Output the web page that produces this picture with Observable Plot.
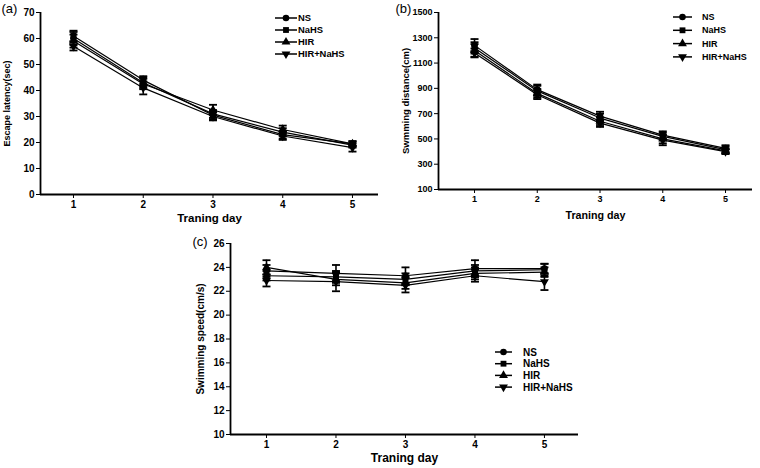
<!DOCTYPE html>
<html>
<head>
<meta charset="utf-8">
<script src="https://cdn.jsdelivr.net/npm/d3@7"></script>
<script src="https://cdn.jsdelivr.net/npm/@observablehq/plot@0.6"></script>
<style>
  html, body { margin: 0; padding: 0; background: #fff; }
  #fig { position: relative; width: 760px; height: 468px; overflow: hidden; background: #fff; }
  .panel { position: absolute; }
  .legend { position: absolute; }
</style>
</head>
<body>
<div id="fig"></div>
<script>
// ---- Data ----
const days = [1, 2, 3, 4, 5];
const groups = ["NS", "NaHS", "HIR", "HIR+NaHS"];

// (a) Escape latency (sec): rows = groups, columns = days
const latencyMean = [
  [60, 43, 31, 24, 19],
  [61, 44, 30.5, 23, 19.5],
  [59, 42.5, 32.5, 25, 19.5],
  [57, 41, 30, 22.5, 18]
];
const latencyErr = [
  [2.5, 2, 1.5, 1.5, 1],
  [2, 1.5, 1.5, 1.5, 1],
  [2.5, 2, 2, 1.5, 1],
  [1.6, 2.5, 1.5, 1.5, 1.5]
];

// (b) Swimming distance (cm)
const distanceMean = [
  [1240, 890, 680, 530, 425],
  [1220, 880, 665, 520, 415],
  [1200, 860, 640, 500, 405],
  [1180, 850, 625, 490, 400]
];
const distanceErr = [
  [50, 40, 35, 30, 25],
  [45, 40, 35, 30, 25],
  [50, 35, 30, 35, 20],
  [35, 35, 30, 40, 20]
];

// (c) Swimming speed (cm/s)
const speedMean = [
  [23.7, 23.5, 23.3, 23.9, 23.9],
  [23.3, 23.2, 23.0, 23.7, 23.8],
  [24.0, 23.0, 22.7, 23.5, 23.6],
  [22.9, 22.8, 22.5, 23.3, 22.8]
];
const speedErr = [
  [0.5, 0.7, 0.7, 0.7, 0.4],
  [0.4, 0.5, 0.5, 0.5, 0.5],
  [0.6, 0.5, 0.5, 0.5, 0.4],
  [0.5, 0.8, 0.6, 0.5, 0.7]
];

const latencyTicks = [0, 10, 20, 30, 40, 50, 60, 70];
const distanceTicks = [100, 300, 500, 700, 900, 1100, 1300, 1500];
const speedTicks = [10, 12, 14, 16, 18, 20, 22, 24, 26];

// ---- Symbols ----
const sqrt3 = Math.sqrt(3);
const triangleDown = {
  draw(ctx, size) {
    const y = -Math.sqrt(size / (sqrt3 * 3));
    ctx.moveTo(0, -y * 2);
    ctx.lineTo(-sqrt3 * y, y);
    ctx.lineTo(sqrt3 * y, y);
    ctx.closePath();
  }
};
const capSymbol = {
  draw(ctx, size) {
    ctx.moveTo(-4, 0);
    ctx.lineTo(4, 0);
  }
};
const groupSymbols = [d3.symbolCircle, d3.symbolSquare, d3.symbolTriangle, triangleDown];
const groupSymbolNames = ["circle", "square", "triangle", triangleDown];

const FONT = "'Liberation Sans', Arial, Helvetica, sans-serif";

function panel(cfg) {
  const rows = [];
  groups.forEach((g, gi) => days.forEach((d, di) => rows.push({
    group: g, gi, day: d, mean: cfg.means[gi][di], err: cfg.errs[gi][di]
  })));
  const marks = [
    Plot.axisY({ticks: cfg.yTicks, tickSize: 4, tickPadding: 2, tickFormat: d => String(d), fontSize: cfg.tickFont, fontWeight: "bold"}),
    Plot.axisX({ticks: days, tickSize: 4, tickPadding: 2, tickFormat: d => String(d), fontSize: cfg.tickFont, fontWeight: "bold"}),
    Plot.ruleY([cfg.yDomain[0]], {stroke: "black", strokeWidth: 1.8}),
    Plot.ruleX([cfg.xDomain[0]], {stroke: "black", strokeWidth: 1.8}),
    Plot.ruleX(rows, {x: "day", y1: d => d.mean - d.err, y2: d => d.mean + d.err, stroke: "black", strokeWidth: 1.6}),
    Plot.dot(rows, {x: "day", y: d => d.mean + d.err, symbol: capSymbol, r: 3, stroke: "black", strokeWidth: 1.8}),
    Plot.dot(rows, {x: "day", y: d => d.mean - d.err, symbol: capSymbol, r: 3, stroke: "black", strokeWidth: 1.8}),
    Plot.line(rows, {x: "day", y: "mean", z: "group", stroke: "black", strokeWidth: 1.2})
  ];
  groups.forEach((g, gi) => {
    marks.push(Plot.dot(rows.filter(r => r.gi === gi), {
      x: "day", y: "mean", symbol: groupSymbolNames[gi], r: gi === 1 ? 3.4 : 3.3, fill: "black", stroke: "none"
    }));
  });
  marks.push(
    Plot.text([cfg.yLabel], {frameAnchor: "left", rotate: -90, dx: cfg.yLabelDx, textAnchor: "middle", lineAnchor: "middle", fontSize: cfg.yLabelFont, fontWeight: "bold", fill: "black"}),
    Plot.text(["Traning day"], {frameAnchor: "bottom", dy: cfg.xLabelDy, textAnchor: "middle", lineAnchor: "middle", fontSize: cfg.xLabelFont, fontWeight: "bold", fill: "black"}),
    Plot.text([cfg.tag], {frameAnchor: "top-left", dx: cfg.tagDx, dy: cfg.tagDy, textAnchor: "start", lineAnchor: "middle", fontSize: 13, fontWeight: "normal", fill: "black"})
  );
  return Plot.plot({
    width: cfg.width,
    height: cfg.height,
    marginLeft: cfg.ml, marginRight: cfg.mr, marginTop: cfg.mt, marginBottom: cfg.mb,
    x: {domain: cfg.xDomain, label: null},
    y: {domain: cfg.yDomain, label: null},
    style: {fontFamily: FONT, fontSize: cfg.tickFont + "px", fontWeight: "bold", color: "black", background: "transparent", overflow: "visible"},
    marks
  });
}

function legend(left, top, spacing, lineX0, lineX1, textX, fontSize) {
  const h = spacing * groups.length + 10;
  const svg = d3.create("svg").attr("width", 130).attr("height", h)
    .style("overflow", "visible");
  groups.forEach((g, i) => {
    const y = 5 + i * spacing;
    svg.append("line").attr("x1", lineX0).attr("x2", lineX1).attr("y1", y).attr("y2", y)
      .attr("stroke", "black").attr("stroke-width", 1.5);
    const sym = d3.symbol(groupSymbols[i], 34)();
    svg.append("path").attr("d", sym).attr("transform", `translate(${(lineX0 + lineX1) / 2},${y})`).attr("fill", "black");
    svg.append("text").attr("x", textX).attr("y", y).attr("dy", "0.35em")
      .attr("font-family", FONT).attr("font-weight", "bold").attr("font-size", fontSize)
      .attr("fill", "black").text(g);
  });
  const div = document.createElement("div");
  div.className = "legend";
  div.style.left = left + "px";
  div.style.top = top + "px";
  div.appendChild(svg.node());
  return div;
}

const fig = document.getElementById("fig");

function place(node, left, top) {
  const wrap = document.createElement("div");
  wrap.className = "panel";
  wrap.style.left = left + "px";
  wrap.style.top = top + "px";
  wrap.appendChild(node);
  fig.appendChild(wrap);
}

// (a)
place(panel({
  means: latencyMean, errs: latencyErr, yDomain: [0, 70], yTicks: latencyTicks,
  xDomain: [0.527, 5.373], width: 380, height: 230, ml: 40, mr: 2, mt: 12, mb: 36,
  yLabel: "Escape latency(sec)", yLabelDx: -33, yLabelFont: 9,
  xLabelDy: 24, xLabelFont: 11.5, tickFont: 10, tag: "(a)", tagDx: -39, tagDy: -4
}), 0, 0);

// (b)
place(panel({
  means: distanceMean, errs: distanceErr, yDomain: [100, 1500], yTicks: distanceTicks,
  xDomain: [0.426, 5.43], width: 380, height: 230, ml: 58, mr: 8, mt: 12, mb: 41,
  yLabel: "Swmming distance(cm)", yLabelDx: -33, yLabelFont: 9.5,
  xLabelDy: 26, xLabelFont: 10.7, tickFont: 9, tag: "(b)", tagDx: -43, tagDy: -4
}), 380, 0);

// (c)
place(panel({
  means: speedMean, errs: speedErr, yDomain: [10, 26], yTicks: speedTicks,
  xDomain: [0.482, 5.49], width: 400, height: 243, ml: 50, mr: 2, mt: 18, mb: 34,
  yLabel: "Swimming speed(cm/s)", yLabelDx: -30, yLabelFont: 10,
  xLabelDy: 24, xLabelFont: 12, tickFont: 10, tag: "(c)", tagDx: -38, tagDy: -2
}), 180, 225);

// Legends
fig.appendChild(legend(270, 13, 12, 5, 27, 28, 9.4));
fig.appendChild(legend(670, 12, 13.3, 3, 22, 32, 9));
fig.appendChild(legend(490, 347, 11.7, 5, 22, 33, 10));
</script>
</body>
</html>
